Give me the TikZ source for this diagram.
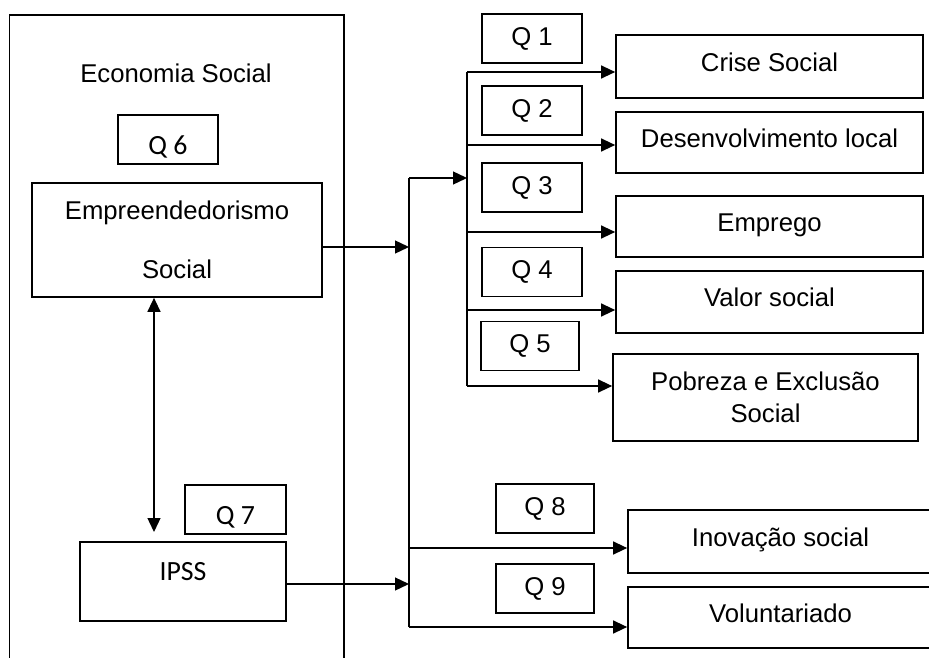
\documentclass[tikz,border=0pt]{standalone}
\usepackage{fontspec}
\setmainfont{Liberation Sans}
\newfontfamily\calib{Carlito}
\usetikzlibrary{arrows.meta}
\tikzset{
  box/.style={draw, line width=1.7pt, inner sep=0pt, font=\fontsize{25.7}{32}\selectfont},
  qbox/.style={box, minimum width=100pt, minimum height=49pt},
  cbox/.style={box, minimum width=101pt, minimum height=49pt, font=\calib\fontsize{27.8}{32}\selectfont, text height=30pt, text depth=0pt},
  rbox/.style={box, minimum width=307pt, minimum height=62pt, text height=18.5pt, text depth=9pt},
  conn/.style={line width=1.3pt},
  arr/.style={conn, -{Triangle[length=14pt, width=13pt]}},
  darr/.style={conn, {Triangle[length=14pt, width=13pt]}-{Triangle[length=14pt, width=13pt]}},
}
\begin{document}
\begin{tikzpicture}[x=1pt, y=-1pt]
\useasboundingbox (0,0) rectangle (929,658);
% outer frame (open at bottom, runs off the page)
\node[draw, line width=1.7pt, inner sep=0pt, minimum width=334.5pt, minimum height=700pt, anchor=north west] (outer) at (8.5,14) {};
\node[font=\fontsize{25.7}{32}\selectfont] (econ) at (176,73) {Economia Social};
\node[cbox, minimum width=100pt] (q6) at (168,139.5) {Q 6};
\node[box, minimum width=290pt, minimum height=114pt, align=center, font=\fontsize{25.7}{59}\selectfont] (emp) at (177,240) {Empreendedorismo\\Social};
\node[cbox] (q7) at (235.5,509.5) {Q 7};
\node[box, minimum width=206pt, minimum height=79pt, font=\calib\fontsize{27.8}{32}\selectfont, text height=18pt, text depth=21pt] (ipss) at (183,581.5) {IPSS};
% question boxes
\node[qbox] (q1) at (532,38.5) {Q 1};
\node[qbox] (q2) at (532,110.5) {Q 2};
\node[qbox] (q3) at (532,187.5) {Q 3};
\node[qbox] (q4) at (532,272) {Q 4};
\node[qbox, minimum width=98pt] (q5) at (530,346) {Q 5};
\node[qbox, minimum width=98pt] (q8) at (545,508.5) {Q 8};
\node[qbox, minimum width=98pt] (q9) at (545,588.5) {Q 9};
% result boxes
\node[rbox, minimum height=63pt] (crise) at (769.5,66.5) {Crise Social};
\node[rbox, minimum height=61pt] (desenv) at (769.5,142.5) {Desenvolvimento local};
\node[rbox, minimum height=61pt] (emprego) at (769.5,226.5) {Emprego};
\node[rbox, minimum height=62pt] (valor) at (769.5,302) {Valor social};
\node[box, minimum width=305pt, minimum height=87pt, align=center] (pobreza) at (765.5,397.5) {Pobreza e Exclusão\\Social};
\node[rbox, minimum width=305pt, minimum height=63pt] (inov) at (780.5,541.5) {Inovação social};
\node[rbox, minimum width=305pt, minimum height=61pt] (volunt) at (780.5,617.5) {Voluntariado};
% bus coordinates
\coordinate (b1top) at (409,178);
\coordinate (b1bot) at (409,627);
\coordinate (b2top) at (467,72);
\coordinate (b2bot) at (467,386);
\coordinate (vtip) at (154,532);
\coordinate (empout) at ([yshift=-7pt]emp.east);
\coordinate (ipssout) at ([yshift=-2.5pt]ipss.east);
\coordinate (crisein) at (crise.west |- b2top);
\coordinate (desin) at ([yshift=-2.5pt]desenv.west);
\coordinate (empin) at ([yshift=-5.5pt]emprego.west);
\coordinate (valin) at ([yshift=-8pt]valor.west);
\coordinate (pobin) at (pobreza.west |- b2bot);
\coordinate (inovin) at ([yshift=-6.5pt]inov.west);
\coordinate (volin) at (volunt.west |- b1bot);
% connectors
\draw[darr] (vtip |- emp.south) -- (vtip);
\draw[arr] (empout) -- (empout -| b1top);
\draw[arr] (ipssout) -- (ipssout -| b1top);
\draw[conn] (b1top) -- (b1bot);
\draw[arr] (b1top) -- (b1top -| b2top);
\draw[conn] (b2top) -- (b2bot);
\draw[arr] (b2top) -- (crisein);
\draw[arr] (desin -| b2top) -- (desin);
\draw[arr] (empin -| b2top) -- (empin);
\draw[arr] (valin -| b2top) -- (valin);
\draw[arr] (b2bot) -- (pobin);
\draw[arr] (inovin -| b1top) -- (inovin);
\draw[arr] (b1bot) -- (volin);
\end{tikzpicture}
\end{document}
